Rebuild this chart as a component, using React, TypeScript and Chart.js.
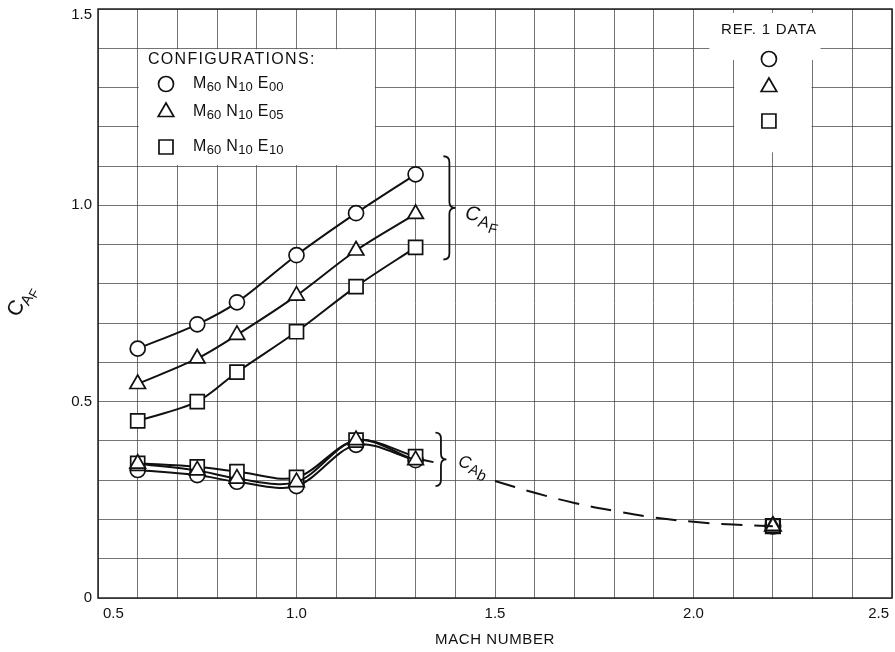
import React, { useEffect, useRef } from "react";
import { Chart, registerables } from "chart.js";

Chart.register(...registerables);

// Mach numbers of the wind-tunnel runs
const machNumbers = [0.6, 0.75, 0.85, 1.0, 1.15, 1.3];

// Forebody axial-force coefficient C_AF for each configuration
const cafE00 = [0.635, 0.697, 0.753, 0.873, 0.98, 1.079];
const cafE05 = [0.545, 0.61, 0.67, 0.77, 0.885, 0.978];
const cafE10 = [0.451, 0.5, 0.575, 0.678, 0.793, 0.893];

// Base axial-force coefficient C_Ab for each configuration
const cabE00 = [0.326, 0.313, 0.296, 0.285, 0.39, 0.351];
const cabE05 = [0.342, 0.325, 0.304, 0.295, 0.402, 0.351];
const cabE10 = [0.343, 0.334, 0.322, 0.307, 0.402, 0.36];

// Short faired continuation of the base curves past the last run
const tailMach = [1.3, 1.345];
const tailCab = [0.356, 0.346];

// Dashed fairing toward the Ref. 1 point
const fairMach = [1.5, 1.6, 1.7, 1.8, 1.9, 2.0, 2.1, 2.2];
const fairCab = [0.298, 0.268, 0.242, 0.222, 0.205, 0.194, 0.187, 0.183];

// Ref. 1 data
const refMach = [2.2];
const refCabE00 = [0.183];
const refCabE05 = [0.183];
const refCabE10 = [0.183];

// Axis labels
const xTickValues = [0.5, 1.0, 1.5, 2.0, 2.5];
const xTickLabels = ["0.5", "1.0", "1.5", "2.0", "2.5"];
const yTickValues = [0, 0.5, 1.0, 1.5];
const yTickLabels = ["0", "0.5", "1.0", "1.5"];

// Configuration designations: M, N, E subscripts
const configSymbols = ["circle", "triangle", "rect"];
const configSubscripts = [
  ["60", "10", "00"],
  ["60", "10", "05"],
  ["60", "10", "10"],
];

const FONT = '"Liberation Sans", Arial, sans-serif';

const pts = (xs: number[], ys: number[]) => xs.map((x, i) => ({ x, y: ys[i] }));

function drawSymbol(ctx: CanvasRenderingContext2D, style: string, x: number, y: number) {
  ctx.beginPath();
  if (style === "circle") {
    ctx.arc(x, y, 7.5, 0, Math.PI * 2);
  } else if (style === "triangle") {
    const r = 9;
    ctx.moveTo(x, y - r);
    ctx.lineTo(x + r * Math.sin(Math.PI / 3), y + r / 2);
    ctx.lineTo(x - r * Math.sin(Math.PI / 3), y + r / 2);
    ctx.closePath();
  } else {
    ctx.rect(x - 7, y - 7, 14, 14);
  }
  ctx.fillStyle = "#fff";
  ctx.fill();
  ctx.strokeStyle = "#111";
  ctx.lineWidth = 1.7;
  ctx.stroke();
}

// Draws text pieces one after another: [text, size, dy, italic, gap]
function drawPieces(
  ctx: CanvasRenderingContext2D,
  x: number,
  y: number,
  pieces: [string, number, number, boolean, number?][]
) {
  let cx = x;
  for (const [text, size, dy, italic, gap] of pieces) {
    ctx.font = `${italic ? "italic " : ""}${size}px ${FONT}`;
    ctx.fillText(text, cx, y + dy);
    cx += ctx.measureText(text).width + (gap || 0);
  }
}

function drawBrace(ctx: CanvasRenderingContext2D, x: number, y0: number, y1: number, w: number) {
  const ym = (y0 + y1) / 2;
  const xm = x + w / 2;
  const r = 6;
  ctx.beginPath();
  ctx.moveTo(x, y0);
  ctx.quadraticCurveTo(xm, y0, xm, y0 + r);
  ctx.lineTo(xm, ym - r);
  ctx.quadraticCurveTo(xm, ym, x + w, ym);
  ctx.quadraticCurveTo(xm, ym, xm, ym + r);
  ctx.lineTo(xm, y1 - r);
  ctx.quadraticCurveTo(xm, y1, x, y1);
  ctx.strokeStyle = "#111";
  ctx.lineWidth = 1.8;
  ctx.stroke();
}

const annotationPlugin = {
  id: "annotations",
  beforeDatasetsDraw(chart: any) {
    const { ctx, chartArea: a, scales } = chart;
    const sx = scales.x;
    const sy = scales.y;
    ctx.save();
    ctx.fillStyle = "#fff";
    // Configurations key panel
    const bx0 = sx.getPixelForValue(0.6) + 1;
    const bx1 = sx.getPixelForValue(1.2) - 1;
    const by0 = sy.getPixelForValue(1.4) + 1;
    const by1 = sy.getPixelForValue(1.1) - 1;
    ctx.fillRect(bx0, by0, bx1 - bx0, by1 - by0);
    // Ref. 1 key panel
    const rx0 = sx.getPixelForValue(2.04);
    const rx1 = sx.getPixelForValue(2.32);
    const ry0 = sy.getPixelForValue(1.49);
    const ry1 = sy.getPixelForValue(1.37);
    ctx.fillRect(rx0, ry0, rx1 - rx0, ry1 - ry0);
    const cx0 = sx.getPixelForValue(2.1) + 1;
    const cx1 = sx.getPixelForValue(2.3) - 1;
    const cy1 = sy.getPixelForValue(1.135);
    ctx.fillRect(cx0, ry1 - 1, cx1 - cx0, cy1 - ry1 + 1);
    // Plot frame
    ctx.strokeStyle = "#222";
    ctx.lineWidth = 1.5;
    ctx.strokeRect(a.left, a.top, a.right - a.left, a.bottom - a.top);
    ctx.restore();
  },
  afterDraw(chart: any) {
    const { ctx, chartArea: a, scales } = chart;
    const sx = scales.x;
    const sy = scales.y;
    ctx.save();
    ctx.fillStyle = "#111";

    // Tick labels
    ctx.font = `15px ${FONT}`;
    ctx.textBaseline = "middle";
    xTickValues.forEach((v, i) => {
      const px = sx.getPixelForValue(v);
      if (i === 0) {
        ctx.textAlign = "left";
        ctx.fillText(xTickLabels[i], px + 5, a.bottom + 16);
      } else if (i === xTickValues.length - 1) {
        ctx.textAlign = "right";
        ctx.fillText(xTickLabels[i], px - 3, a.bottom + 16);
      } else {
        ctx.textAlign = "center";
        ctx.fillText(xTickLabels[i], px, a.bottom + 16);
      }
    });
    ctx.textAlign = "right";
    yTickValues.forEach((v, i) => {
      const py = Math.max(sy.getPixelForValue(v), a.top + 6);
      ctx.fillText(yTickLabels[i], a.left - 6, py);
    });

    // X axis title
    ctx.textAlign = "center";
    (ctx as any).letterSpacing = "0.6px";
    ctx.font = `15px ${FONT}`;
    ctx.fillText("MACH NUMBER", (a.left + a.right) / 2, 640);
    (ctx as any).letterSpacing = "0px";

    // Y axis title C_AF
    ctx.save();
    ctx.textAlign = "left";
    ctx.textBaseline = "alphabetic";
    ctx.translate(18, 318);
    ctx.rotate((-62 * Math.PI) / 180);
    drawPieces(ctx, 0, 0, [
      ["C", 21, 0, false],
      ["A", 15, 4, false],
      ["F", 13, 7, false],
    ]);
    ctx.restore();

    // Configurations key
    ctx.textAlign = "left";
    ctx.textBaseline = "middle";
    (ctx as any).letterSpacing = "1.3px";
    ctx.font = `16px ${FONT}`;
    ctx.fillText("CONFIGURATIONS:", 148, 60);
    (ctx as any).letterSpacing = "0px";
    const rowY = [84, 112, 147];
    configSymbols.forEach((s, i) => {
      drawSymbol(ctx, s, 166, rowY[i]);
      ctx.fillStyle = "#111";
      const [m, n, e] = configSubscripts[i];
      drawPieces(ctx, 193, rowY[i], [
        ["M", 16, 0, false, 0.5],
        [m, 13, 3, false, 5],
        ["N", 16, 0, false, 0.5],
        [n, 13, 3, false, 5],
        ["E", 16, 0, false, 0.5],
        [e, 13, 3, false],
      ]);
    });

    // Ref. 1 key
    const refX = sx.getPixelForValue(2.19);
    ctx.textAlign = "center";
    ctx.fillStyle = "#111";
    (ctx as any).letterSpacing = "0.8px";
    ctx.font = `15px ${FONT}`;
    ctx.fillText("REF. 1 DATA", refX, 30);
    (ctx as any).letterSpacing = "0px";
    const refRowY = [59, 87, 121];
    configSymbols.forEach((s, i) => drawSymbol(ctx, s, refX, refRowY[i]));

    // C_AF brace and label
    const bX = sx.getPixelForValue(1.37);
    drawBrace(ctx, bX, sy.getPixelForValue(1.125), sy.getPixelForValue(0.862), 12);
    ctx.fillStyle = "#111";
    ctx.save();
    ctx.textAlign = "left";
    ctx.textBaseline = "alphabetic";
    ctx.translate(bX + 21, 219);
    ctx.rotate((9 * Math.PI) / 180);
    drawPieces(ctx, 0, 0, [
      ["C", 20, 0, true, 0],
      ["A", 16, 5, true, 0],
      ["F", 14, 10, true],
    ]);
    ctx.restore();

    // C_Ab brace and label
    const cX = sx.getPixelForValue(1.35);
    drawBrace(ctx, cX, sy.getPixelForValue(0.421), sy.getPixelForValue(0.285), 11);
    ctx.fillStyle = "#111";
    ctx.save();
    ctx.textAlign = "left";
    ctx.textBaseline = "alphabetic";
    ctx.translate(cX + 22, 466);
    ctx.rotate((15 * Math.PI) / 180);
    drawPieces(ctx, 0, 0, [
      ["C", 17, 0, true, 0],
      ["A", 14, 4, true, 0],
      ["b", 15, 8, true],
    ]);
    ctx.restore();

    ctx.restore();
  },
};

const lineBase = {
  borderColor: "#111",
  borderWidth: 2,
  tension: 0.32,
  pointBackgroundColor: "#fff",
  pointBorderColor: "#111",
  pointBorderWidth: 1.7,
  fill: false,
};

const styleFor = (style: string) =>
  style === "circle"
    ? { pointStyle: "circle", pointRadius: 7.5 }
    : style === "triangle"
    ? { pointStyle: "triangle", pointRadius: 9 }
    : { pointStyle: "rect", pointRadius: 9.9 };

export default function App() {
  const canvasRef = useRef<HTMLCanvasElement | null>(null);

  useEffect(() => {
    if (!canvasRef.current) return;
    const chart = new Chart(canvasRef.current, {
      type: "line",
      data: {
        datasets: [
          { ...lineBase, ...styleFor("circle"), data: pts(machNumbers, cafE00), order: 3 },
          { ...lineBase, ...styleFor("triangle"), data: pts(machNumbers, cafE05), order: 1 },
          { ...lineBase, ...styleFor("rect"), data: pts(machNumbers, cafE10), order: 2 },
          { ...lineBase, ...styleFor("circle"), data: pts(machNumbers, cabE00), order: 6 },
          { ...lineBase, ...styleFor("rect"), data: pts(machNumbers, cabE10), order: 5 },
          { ...lineBase, ...styleFor("triangle"), data: pts(machNumbers, cabE05), order: 4 },
          { ...lineBase, data: pts(tailMach, tailCab), pointRadius: 0, order: 7 },
          {
            ...lineBase,
            data: pts(fairMach, fairCab),
            pointRadius: 0,
            borderDash: [21, 12],
            tension: 0.4,
            order: 8,
          },
          { ...lineBase, ...styleFor("circle"), data: pts(refMach, refCabE00), showLine: false, pointBorderWidth: 2.2, order: 11 },
          { ...lineBase, ...styleFor("rect"), data: pts(refMach, refCabE10), showLine: false, pointBorderWidth: 2.2, order: 10 },
          { ...lineBase, ...styleFor("triangle"), data: pts(refMach, refCabE05), showLine: false, pointBorderWidth: 2.2, order: 9 },
        ] as any,
      },
      options: {
        animation: false,
        responsive: false,
        events: [],
        layout: { autoPadding: false, padding: { left: 98, top: 9, right: 3, bottom: 54 } },
        plugins: { legend: { display: false }, tooltip: { enabled: false } },
        scales: {
          x: {
            type: "linear",
            min: 0.5,
            max: 2.5,
            ticks: { stepSize: 0.1, display: false },
            grid: { color: "rgba(70,70,70,0.75)", lineWidth: 1, drawTicks: false },
            border: { display: false },
          },
          y: {
            type: "linear",
            min: 0,
            max: 1.5,
            ticks: { stepSize: 0.1, display: false },
            grid: { color: "rgba(70,70,70,0.75)", lineWidth: 1, drawTicks: false },
            border: { display: false },
          },
        },
      },
      plugins: [annotationPlugin],
    });
    return () => chart.destroy();
  }, []);

  return (
    <div style={{ position: "fixed", left: 0, top: 0, width: 895, height: 652, background: "#fff" }}>
      <canvas ref={canvasRef} width={895} height={652} />
    </div>
  );
}
